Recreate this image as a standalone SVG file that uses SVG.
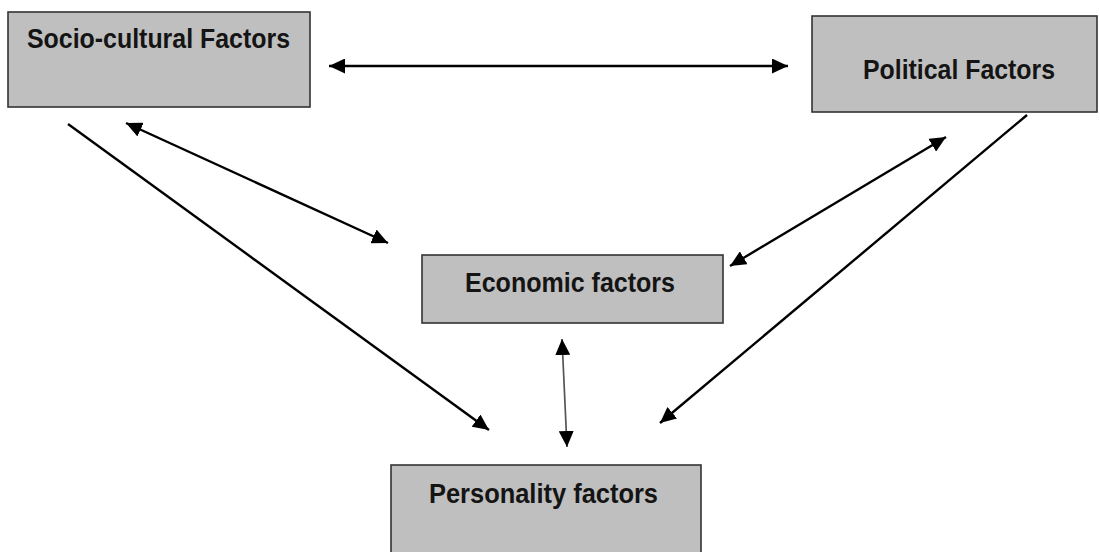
<svg xmlns="http://www.w3.org/2000/svg" width="1100" height="552" viewBox="0 0 1100 552">
  <style>
    .box { fill: #bfbfbf; stroke: #333333; stroke-width: 1.6; }
    .label { font-family: "Liberation Sans", Arial, sans-serif; font-weight: bold; font-size: 27px; fill: #141414; }
    .link { stroke: #000000; stroke-width: 2.4; fill: none; }
    .thin { stroke: #555555; stroke-width: 1.7; fill: none; }
  </style>
  <defs>
    <marker id="head" markerUnits="userSpaceOnUse" markerWidth="17" markerHeight="15" refX="16" refY="7.5" orient="auto-start-reverse">
      <path d="M0,0 L16,7.5 L0,15 Z" fill="#000000"/>
    </marker>
  </defs>

  <rect width="1100" height="552" fill="#ffffff"/>

  <g id="socio-cultural">
    <rect class="box" x="8" y="12" width="302" height="95"/>
    <text class="label" x="27" y="48" textLength="263" lengthAdjust="spacingAndGlyphs">Socio-cultural Factors</text>
  </g>

  <g id="political">
    <rect class="box" x="812" y="16" width="285" height="96"/>
    <text class="label" x="863" y="79" textLength="192" lengthAdjust="spacingAndGlyphs">Political Factors</text>
  </g>

  <g id="economic">
    <rect class="box" x="422" y="255" width="301" height="68"/>
    <text class="label" x="465" y="292" textLength="210" lengthAdjust="spacingAndGlyphs">Economic factors</text>
  </g>

  <g id="personality">
    <rect class="box" x="391" y="465" width="310" height="95"/>
    <text class="label" x="429" y="503" textLength="229" lengthAdjust="spacingAndGlyphs">Personality factors</text>
  </g>

  <g id="connectors">
    <!-- socio-cultural <-> political -->
    <line class="link" x1="329" y1="66" x2="788" y2="66" marker-start="url(#head)" marker-end="url(#head)"/>
    <!-- socio-cultural -> personality -->
    <line class="link" x1="68" y1="124" x2="489" y2="430" marker-end="url(#head)"/>
    <!-- socio-cultural <-> economic -->
    <line class="link" x1="126" y1="123" x2="388" y2="243" marker-start="url(#head)" marker-end="url(#head)"/>
    <!-- political <-> economic -->
    <line class="link" x1="946" y1="137" x2="730" y2="266" marker-start="url(#head)" marker-end="url(#head)"/>
    <!-- political -> personality -->
    <line class="link" x1="1027" y1="115" x2="660" y2="423" marker-end="url(#head)"/>
    <!-- economic <-> personality -->
    <line class="thin" x1="562" y1="339" x2="567" y2="447" marker-start="url(#head)" marker-end="url(#head)"/>
  </g>
</svg>
